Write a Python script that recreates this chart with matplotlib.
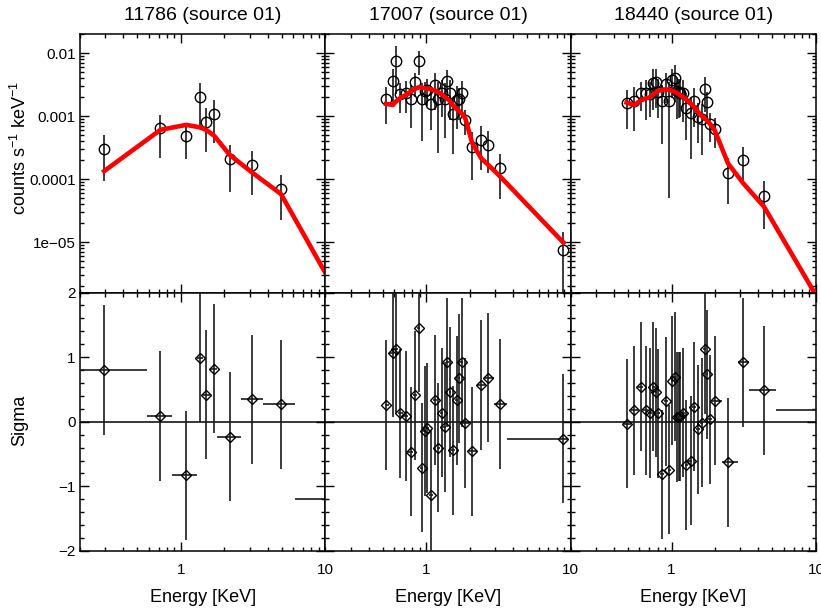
import matplotlib
matplotlib.use('Agg')
import matplotlib.pyplot as plt
import numpy as np
from matplotlib.ticker import NullFormatter, MultipleLocator, LogLocator

plt.rcParams['font.family'] = ['Liberation Sans', 'DejaVu Sans']
plt.rcParams['mathtext.fontset'] = 'custom'
plt.rcParams['mathtext.rm'] = 'Liberation Sans'
plt.rcParams['mathtext.it'] = 'Liberation Sans:italic'

titles = ['11786 (source 01)', '17007 (source 01)', '18440 (source 01)']

# --- 11786 ---
e1 = [0.294, 0.722, 1.088, 1.346, 1.497, 1.70, 2.18, 3.13, 4.93, 10.8]
edges1 = [0.15, 0.58, 0.87, 1.30, 1.42, 1.58, 1.79, 2.61, 3.68, 6.2, 16.0]
flux1 = [3.0e-4, 6.4e-4, 4.8e-4, 2.0e-3, 8.1e-4, 1.1e-3, 2.1e-4, 1.67e-4, 7.0e-5, 1.5e-6]
ferr1 = [2.05e-4, 4.2e-4, 2.7e-4, 1.33e-3, 5.4e-4, 7.3e-4, 1.46e-4, 1.1e-4, 4.75e-5, 2e-6]
model1 = [1.35e-4, 6.1e-4, 7.3e-4, 6.7e-4, 6.1e-4, 4.9e-4, 2.43e-4, 1.27e-4, 5.85e-5, 2.4e-6]
sig1 = [0.80, 0.09, -0.83, 0.99, 0.42, 0.82, -0.23, 0.345, 0.27, -1.19]

# --- 17007 ---
e2 = [0.528, 0.587, 0.616, 0.657, 0.723, 0.783, 0.839, 0.889, 0.928, 0.984,
      1.016, 1.083, 1.154, 1.205, 1.277, 1.340, 1.398, 1.459, 1.522, 1.641,
      1.694, 1.758, 1.864, 2.085, 2.406, 2.692, 3.262, 8.915]
edges2 = [0.515, 0.555, 0.600, 0.635, 0.690, 0.752, 0.810, 0.863, 0.908, 0.955,
          1.000, 1.048, 1.117, 1.180, 1.240, 1.308, 1.370, 1.428, 1.490, 1.580,
          1.668, 1.725, 1.810, 1.970, 2.230, 2.550, 2.960, 3.640, 9.60]
flux2 = [1.86e-3, 3.64e-3, 7.65e-3, 2.23e-3, 2.38e-3, 1.91e-3, 3.47e-3, 7.65e-3, 1.90e-3, 2.52e-3,
         2.65e-3, 1.57e-3, 3.1e-3, 1.86e-3, 2.38e-3, 1.90e-3, 3.64e-3, 2.32e-3, 1.10e-3, 1.82e-3,
         1.86e-3, 2.38e-3, 8.75e-4, 3.26e-4, 4.16e-4, 3.55e-4, 1.51e-4, 7.55e-6]
ferr2 = [1.1e-3, 1.93e-3, 5.4e-3, 1.11e-3, 1.26e-3, 1.25e-3, 1.46e-3, 3.2e-3, 1.5e-3, 1.03e-3,
         1.2e-3, 9.7e-4, 1.83e-3, 1.6e-3, 1.39e-3, 1.44e-3, 1.79e-3, 1.45e-3, 8.5e-4, 1.2e-3,
         1.0e-3, 1.3e-3, 3.7e-4, 2.3e-4, 2.75e-4, 2.3e-4, 1.02e-4, 7.2e-6]
model2 = [1.57e-3, 1.51e-3, 1.71e-3, 1.93e-3, 2.18e-3, 2.47e-3, 2.72e-3, 2.89e-3, 2.85e-3, 2.78e-3,
          2.74e-3, 2.68e-3, 2.55e-3, 2.43e-3, 2.25e-3, 2.05e-3, 1.9e-3, 1.75e-3, 1.51e-3, 1.28e-3,
          1.2e-3, 1.12e-3, 9.3e-4, 3.73e-4, 2.15e-4, 1.69e-4, 1.1e-4, 9.9e-6]
sig2 = [0.258, 1.067, 1.129, 0.129, 0.088, -0.464, 0.407, 1.454, -0.711, -0.144,
        -0.098, -1.134, 0.335, -0.402, 0.139, -0.082, 0.918, 0.459, -0.443, 0.330,
        0.670, 0.918, -0.021, -0.459, 0.567, 0.680, 0.273, -0.263]

# --- 18440 ---
e3 = [0.488, 0.554, 0.610, 0.664, 0.708, 0.750, 0.778, 0.808, 0.857, 0.914,
      0.963, 1.005, 1.060, 1.083, 1.118, 1.154, 1.205, 1.257, 1.355, 1.429,
      1.523, 1.623, 1.694, 1.749, 1.845, 1.987, 2.458, 3.14, 4.37, 11.0]
edges3 = [0.465, 0.52, 0.582, 0.637, 0.686, 0.729, 0.764, 0.793, 0.832, 0.885,
          0.938, 0.984, 1.032, 1.072, 1.100, 1.136, 1.180, 1.231, 1.305, 1.392,
          1.476, 1.573, 1.658, 1.721, 1.796, 1.915, 2.22, 2.87, 3.46, 5.30, 20.0]
flux3 = [1.63e-3, 1.73e-3, 2.38e-3, 2.32e-3, 2.26e-3, 3.42e-3, 3.47e-3, 2.45e-3, 1.75e-3, 3.22e-3,
         1.75e-3, 3.77e-3, 4.11e-3, 2.52e-3, 2.43e-3, 2.38e-3, 2.32e-3, 1.37e-3, 1.13e-3, 1.73e-3,
         9.9e-4, 8.96e-4, 2.72e-3, 1.71e-3, 7.55e-4, 6.22e-4, 1.28e-4, 2.05e-4, 5.43e-5, 8e-7]
ferr3 = [1.0e-3, 1.15e-3, 1.17e-3, 1.45e-3, 1.3e-3, 2.15e-3, 2.1e-3, 1.5e-3, 1.39e-3, 1.6e-3,
         1.7e-3, 1.8e-3, 2.4e-3, 1.6e-3, 1.5e-3, 1.4e-3, 1.5e-3, 9.5e-4, 9.2e-4, 1.05e-3,
         6.2e-4, 6.5e-4, 1.55e-3, 7.6e-4, 3.6e-4, 3.1e-4, 8.7e-5, 1.25e-4, 3.8e-5, 1e-6]
model3 = [1.65e-3, 1.51e-3, 1.78e-3, 1.92e-3, 2.0e-3, 2.26e-3, 2.38e-3, 2.52e-3, 2.62e-3, 2.68e-3,
          2.62e-3, 2.55e-3, 2.42e-3, 2.35e-3, 2.25e-3, 2.15e-3, 2.02e-3, 1.87e-3, 1.6e-3, 1.42e-3,
          1.18e-3, 1.0e-3, 9.3e-4, 8.75e-4, 7.6e-4, 6.07e-4, 1.8e-4, 8.65e-5, 3.68e-5, 1e-6]
sig3 = [-0.031, 0.175, 0.541, 0.175, 0.134, 0.541, 0.454, 0.129, -0.814, 0.314,
        -0.742, 0.634, 0.696, 0.072, 0.077, 0.082, 0.139, -0.670, -0.603, 0.232,
        -0.119, -0.015, 1.119, 0.732, 0.036, 0.325, -0.629, 0.918, 0.485, 0.186]

panels = [(e1, edges1, flux1, ferr1, model1, sig1),
          (e2, edges2, flux2, ferr2, model2, sig2),
          (e3, edges3, flux3, ferr3, model3, sig3)]

W, H = 821, 610
fig = plt.figure(figsize=(W / 100, H / 100), dpi=100)

x0, pw = 80, 245.3
y_top, y_mid, y_bot = 34, 292.5, 551
ecol = '#1a1a1a'


def style(ax):
    ax.tick_params(which='both', direction='in', top=True, right=True, width=1, labelsize=11)
    ax.tick_params(which='major', length=6.5)
    ax.tick_params(which='minor', length=3.2)
    for s in ax.spines.values():
        s.set_linewidth(1.1)


for i, (e, edges, flux, ferr, model, sig) in enumerate(panels):
    e = np.array(e)
    edges = np.array(edges)
    left = (x0 + pw * i) / W
    axt = fig.add_axes([left, 1 - y_mid / H, pw / W, (y_mid - y_top) / H])
    axb = fig.add_axes([left, 1 - y_bot / H, pw / W, (y_bot - y_mid) / H])

    # spectrum + model
    axt.errorbar(e, flux, yerr=ferr, fmt='o', ms=7.5, mfc='none', mec='black', mew=1.0,
                 ecolor=ecol, elinewidth=1.2, capsize=0, zorder=3)
    axt.plot(e, model, color='red', lw=3.3, zorder=5)
    axt.set_xscale('log')
    axt.set_yscale('log', nonpositive='clip')
    axt.set_xlim(0.2, 10)
    axt.set_ylim(1.6e-6, 0.0202)
    axt.set_yticks([1e-5, 1e-4, 1e-3, 1e-2])
    axt.set_yticklabels(['1e\u221205', '0.0001', '0.001', '0.01'])
    axt.yaxis.set_minor_locator(LogLocator(base=10, subs=np.arange(2, 10), numticks=20))
    axt.yaxis.set_minor_formatter(NullFormatter())
    axt.set_xticks([1, 10])
    axt.xaxis.set_minor_locator(LogLocator(base=10, subs=np.arange(2, 10), numticks=20))
    axt.xaxis.set_minor_formatter(NullFormatter())
    style(axt)
    axt.tick_params(labelbottom=False, pad=3)
    if i > 0:
        axt.tick_params(labelleft=False)

    # residuals
    xerr = [e - edges[:-1], edges[1:] - e]
    axb.axhline(0, color='black', lw=1.1, zorder=1)
    axb.errorbar(e, sig, xerr=xerr, yerr=1.0, fmt='D', ms=5.5, mfc='none', mec='black', mew=1.0,
                 ecolor=ecol, elinewidth=1.2, capsize=0, zorder=3)
    axb.set_xscale('log')
    axb.set_xlim(0.2, 10)
    axb.set_ylim(-2, 2)
    axb.set_yticks([-2, -1, 0, 1, 2])
    axb.set_yticklabels(['\u22122', '\u22121', '0', '1', '2'])
    axb.yaxis.set_minor_locator(MultipleLocator(0.2))
    axb.set_xticks([1, 10])
    axb.set_xticklabels(['1', '10'])
    axb.xaxis.set_minor_locator(LogLocator(base=10, subs=np.arange(2, 10), numticks=20))
    axb.xaxis.set_minor_formatter(NullFormatter())
    style(axb)
    axb.tick_params(axis='x', pad=9)
    axb.tick_params(axis='y', pad=3)
    if i > 0:
        axb.tick_params(labelleft=False)

    cx = (x0 + pw * i + pw / 2) / W
    fig.text(cx, 1 - 15 / H, titles[i], ha='center', va='center', fontsize=14)
    fig.text(cx, 1 - 597 / H, 'Energy [KeV]', ha='center', va='center', fontsize=13)

fig.text(20 / W, 1 - 148 / H, r'counts s$^{-1}$ keV$^{-1}$', rotation=90,
         ha='center', va='center', fontsize=13)
fig.text(20 / W, 1 - 420 / H, 'Sigma', rotation=90, ha='center', va='center', fontsize=13)

fig.savefig('out.png', dpi=100)
